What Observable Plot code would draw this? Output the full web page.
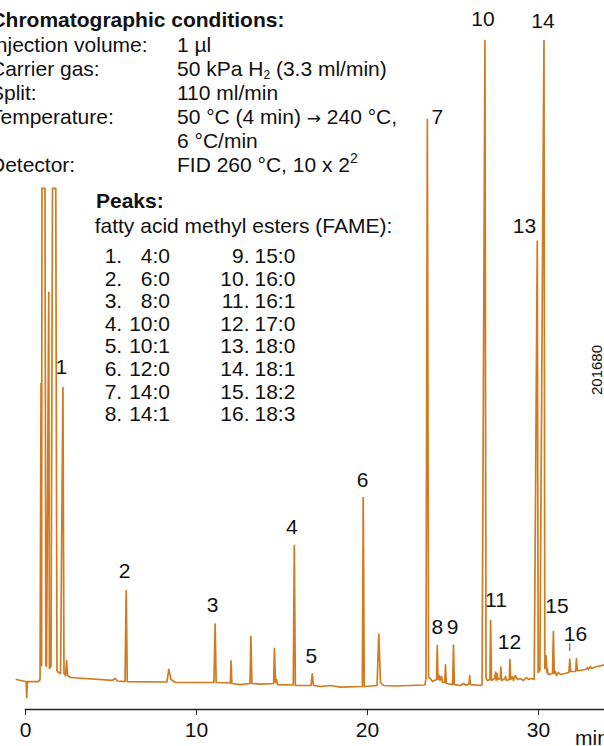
<!DOCTYPE html>
<html><head><meta charset="utf-8">
<script src="https://cdn.jsdelivr.net/npm/d3@7"></script>
<script src="https://cdn.jsdelivr.net/npm/@observablehq/plot@0.6"></script>
<style>
html,body{margin:0;padding:0;background:#fff;overflow:hidden}
#chart{position:relative;width:604px;height:746px}
</style></head><body><div id="chart"></div>
<script>
// ---- data ----
// detector trace: [retention time (min), signal (% of largest peak)]
const trace = [[-0.53,0.16],[0,-0.16],[0.04,-0.16],[0.07,-2.66],[0.11,-0.16],[0.76,-0.16],[0.85,0.16],[0.91,46.41],[0.94,2.34],[0.96,76.88],[1.14,76.88],[1.19,2.5],[1.23,2.19],[1.36,60.63],[1.40,1.88],[1.49,2.19],[1.58,76.88],[1.77,76.88],[1.84,1.56],[1.93,1.25],[2.05,1.09],[2.19,45.78],[2.25,1.09],[2.34,0.78],[2.40,3.13],[2.46,0.78],[2.63,0.47],[5.09,0.03],[5.25,0.31],[5.38,-0.08],[5.82,-0.16],[5.89,14.06],[5.95,-0.16],[8.27,-0.23],[8.38,1.75],[8.51,0.16],[8.77,-0.31],[11.02,-0.31],[11.09,8.83],[11.15,-0.31],[11.98,-0.39],[12.02,3.06],[12.07,-0.47],[12.57,-0.63],[13.13,-0.47],[13.18,6.88],[13.24,-0.47],[13.74,-0.55],[14.51,-0.47],[14.56,5.0],[14.62,-0.31],[14.68,0.16],[14.74,-0.63],[15.66,-0.70],[15.72,21.09],[15.78,-0.78],[16.70,-0.78],[16.77,1.05],[16.84,-0.78],[17.25,-0.94],[17.84,-0.78],[18.42,-1.03],[19.70,-0.94],[19.75,28.59],[19.81,-0.94],[20.56,-0.78],[20.66,7.25],[20.76,-0.31],[20.94,-0.78],[21.64,-0.86],[23.36,-0.70],[23.42,0.31],[23.50,87.66],[23.57,0.47],[23.68,0.31],[23.80,-0.16],[24.04,0.16],[24.08,5.47],[24.12,0.16],[24.20,0.78],[24.24,0],[24.33,0.63],[24.39,-0.31],[24.52,-0.31],[24.56,2.44],[24.61,-0.47],[24.98,-0.63],[25.03,5.55],[25.08,-0.63],[25.44,-0.78],[25.61,-0.47],[25.79,-0.78],[25.94,-0.47],[25.98,0.78],[26.02,-0.63],[26.64,-0.78],[26.70,-0.63],[26.87,100],[26.93,0.31],[27.02,0],[27.16,0.16],[27.20,9.38],[27.25,0],[27.43,0.31],[27.49,1.30],[27.53,0],[27.58,1.09],[27.63,0.16],[27.77,0.31],[27.80,2.08],[27.84,0],[28.04,0.31],[28.08,0.63],[28.13,0],[28.29,0.16],[28.33,3.28],[28.37,0.16],[28.48,0.63],[28.54,0],[28.65,0.78],[28.77,0.16],[28.95,0.31],[29.12,0],[29.30,0.47],[29.42,0.16],[29.59,0.31],[29.75,0.16],[29.93,68.64],[29.98,1.25],[30.08,1.56],[30.32,100],[30.37,1.88],[30.44,3.91],[30.49,1.25],[30.51,1.88],[30.56,0.94],[30.82,1.09],[30.87,7.66],[30.92,1.09],[30.99,1.41],[31.05,0.78],[31.17,1.25],[31.29,0.94],[31.78,1.25],[31.83,3.36],[31.88,1.41],[32.18,1.41],[32.22,3.44],[32.27,1.56],[32.46,1.56],[32.75,1.72],[32.87,2.03],[32.92,1.72],[33.04,2.19],[33.10,1.88],[33.39,2.19],[33.86,2.42]];

const peakNumbers = ["1","2","3","4","5","6","7","8","9","10","11","12","13","14","15","16"];
const labelTime   = [2.09,5.79,10.94,15.58,16.71,19.71,24.09,24.09,24.97,26.75,27.51,28.30,29.18,30.26,31.08,32.16];
const labelSignal = [47.92,15.94,10.67,22.92,2.70,30.31,87.03,7.19,7.19,102.34,11.56,5.00,70.00,101.88,10.47,6.25];
const compounds = ["4:0","6:0","8:0","10:0","10:1","12:0","14:0","14:1","15:0","16:0","16:1","17:0","18:0","18:1","18:2","18:3"];
const leader = [{t:31.83, from:5.78, to:4.53}];
const xTicks = [0,10,20,30];
const timeDomain = [0, 33.86];
const signalDomain = [-4.53, 106.25];

const condLabels = ["Injection volume:","Carrier gas:","Split:","Temperature:","","Detector:"];
const condValues = [
  [["1 µl"]],
  [["50 kPa H"],["2","sub"],[" (3.3 ml/min)"]],
  [["110 ml/min"]],
  [["50 °C (4 min) "],["→","arrow"],[" 240 °C,"]],
  [["6 °C/min"]],
  [["FID 260 °C, 10 x 2"],["2","sup"]]
];

// ---- chart ----
const FONT = '"Liberation Sans", Arial, Helvetica, sans-serif';
const labels = peakNumbers.map((n,i)=>({n, t:labelTime[i], v:labelSignal[i]}));
const points = trace.map(([t,v])=>({t,v}));

const svg = Plot.plot({
  width: 604, height: 746,
  marginLeft: 25, marginRight: 0, marginTop: 0, marginBottom: 37,
  style: {fontFamily: FONT, fontSize: "21px", background: "white", color: "#111"},
  x: {domain: timeDomain},
  y: {domain: signalDomain, axis: null},
  marks: [
    Plot.frame({anchor: "bottom", stroke: "#222", strokeWidth: 1.5}),
    Plot.axisX({ticks: xTicks, tickSize: 6, tickPadding: 7, fontSize: 21, tickFormat: d => String(d), label: null, stroke: "#222", fill: "#111"}),
    Plot.line(points, {x: "t", y: "v", stroke: "#d07b20", strokeWidth: 1.7}),
    Plot.ruleX(leader, {x: "t", y1: "from", y2: "to", stroke: "#555", strokeWidth: 1}),
    Plot.text(labels, {x: "t", y: "v", text: "n", lineAnchor: "bottom", textAnchor: "middle", fontSize: 21, fill: "#111"})
  ]
});

const g = d3.select(svg).append("g").attr("font-family", FONT).attr("font-size", 21).attr("fill", "#111").attr("text-anchor", "start");
g.append("text").attr("x", -9.6).attr("y", 27).attr("font-weight", "bold").text("Chromatographic conditions:");
condLabels.forEach((l, i) => g.append("text").attr("x", -10).attr("y", 51.5 + 24 * i).text(l));
condValues.forEach((segs, i) => {
  const t = g.append("text").attr("x", 177).attr("y", 51.5 + 24 * i);
  let shift = 0;
  segs.forEach(([s, kind]) => {
    const ts = t.append("tspan").text(s);
    if (kind === "sub") { ts.attr("font-size", 12).attr("dy", 3 - shift); shift = 3; }
    else if (kind === "sup") { ts.attr("font-size", 14).attr("dy", -8.5 - shift); shift = -8.5; }
    else {
      if (kind === "arrow") ts.attr("font-family", '"DejaVu Sans", sans-serif').attr("font-size", 17);
      if (shift !== 0) { ts.attr("dy", -shift); shift = 0; }
    }
  });
});
g.append("text").attr("x", 96).attr("y", 208).attr("font-weight", "bold").text("Peaks:");
g.append("text").attr("x", 94.7).attr("y", 233).text("fatty acid methyl esters (FAME):");
compounds.forEach((c, i) => {
  const row = i % 8, y = 263 + 22.6 * row;
  if (i < 8) {
    g.append("text").attr("x", 104.7).attr("y", y).text(`${i + 1}.`);
    g.append("text").attr("x", 170).attr("y", y).attr("text-anchor", "end").text(c);
  } else {
    g.append("text").attr("x", 249.5).attr("y", y).attr("text-anchor", "end").text(`${i + 1}.`);
    g.append("text").attr("x", 254.5).attr("y", y).text(c);
  }
});
g.append("text").attr("transform", "translate(601.7,370) rotate(-90)").attr("text-anchor", "middle").attr("font-size", 15).text("201680");
g.append("text").attr("x", 575).attr("y", 745).text("min");

document.getElementById("chart").appendChild(svg);
</script></body></html>
